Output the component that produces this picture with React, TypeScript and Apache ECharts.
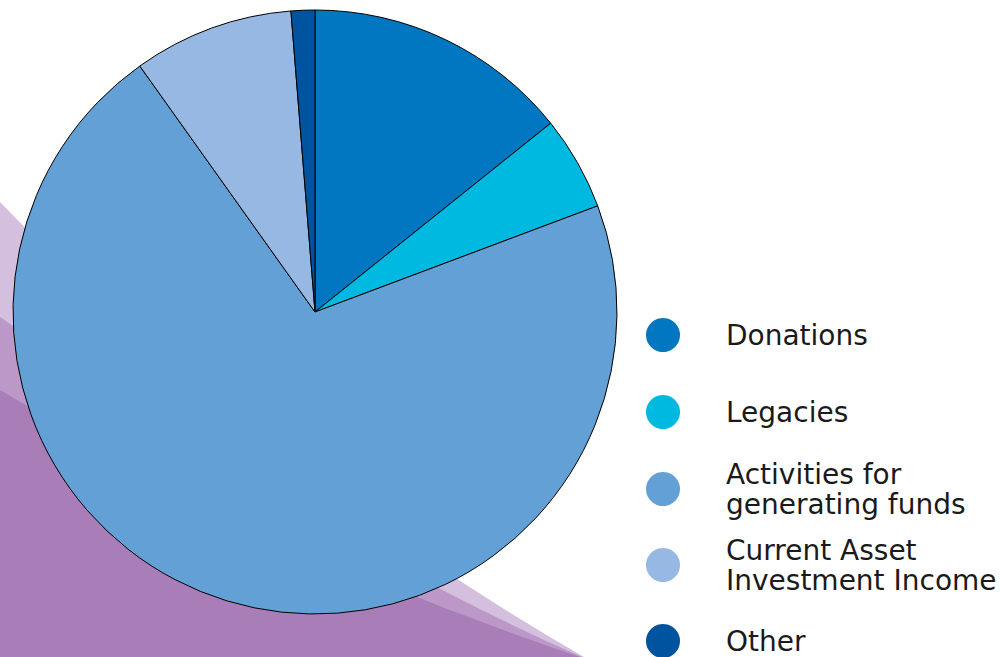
import React, { useEffect, useRef } from "react";
import * as echarts from "echarts";

const categories = [
  "Donations",
  "Legacies",
  "Activities for\ngenerating funds",
  "Current Asset\nInvestment Income",
  "Other",
];
const values = [14.25, 5.03, 70.86, 8.58, 1.27];
const colors = ["#0077c0", "#00b9e0", "#63a0d5", "#96b8e2", "#00539f"];

echarts.graphic.registerShape(
  "bandLight",
  echarts.graphic.extendPath("M0 202 Q254 466 584 657 L0 657 Z", {})
);
echarts.graphic.registerShape(
  "bandMid",
  echarts.graphic.extendPath("M0 317 Q326 545 582 657 L0 657 Z", {})
);
echarts.graphic.registerShape(
  "bandDark",
  echarts.graphic.extendPath("M0 390 Q271 553 580 657 L0 657 Z", {})
);

export default function App() {
  const ref = useRef<HTMLDivElement>(null);
  useEffect(() => {
    if (!ref.current) return;
    const chart = echarts.init(ref.current, undefined, { renderer: "svg" });
    const legendTops = [318, 395, 459, 535, 624];
    const legends = categories.map((name, i) => ({
      orient: "vertical",
      left: 646,
      top: legendTops[i],
      padding: 0,
      data: [name],
      icon: "circle",
      itemWidth: 34,
      itemHeight: 34,
      selectedMode: false,
      itemStyle: { borderWidth: 0 },
      textStyle: {
        fontFamily: "DejaVu Sans",
        fontSize: 28,
        lineHeight: 30,
        color: "#1a1a1a",
        padding: [0, 0, 0, 41],
      },
    }));
    chart.setOption({
      animation: false,
      backgroundColor: "#ffffff",
      graphic: [
        { type: "bandLight", x: 0, y: 0, z: -10, style: { fill: "#d5bfdf" } },
        { type: "bandMid", x: 0, y: 0, z: -9, style: { fill: "#bc98c8" } },
        { type: "bandDark", x: 0, y: 0, z: -8, style: { fill: "#a87db8" } },
      ],
      legend: legends,
      series: [
        {
          type: "pie",
          center: [315, 312],
          radius: [0, 302],
          startAngle: 90,
          clockwise: true,
          label: { show: false },
          labelLine: { show: false },
          emphasis: { disabled: true },
          itemStyle: { borderColor: "#000000", borderWidth: 1 },
          data: categories.map((name, i) => ({
            name,
            value: values[i],
            itemStyle: { color: colors[i] },
          })),
        },
      ],
    });
    return () => chart.dispose();
  }, []);
  return (
    <div
      ref={ref}
      style={{ width: 1000, height: 657, position: "absolute", left: 0, top: 0 }}
    />
  );
}
